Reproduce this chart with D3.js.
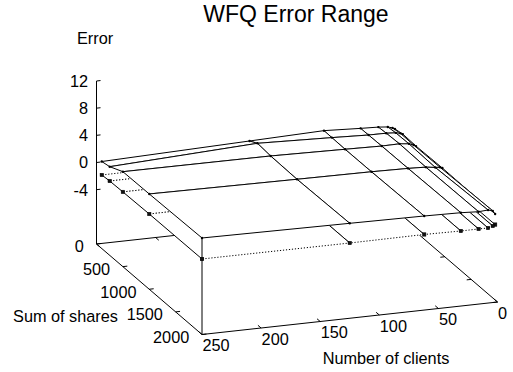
<!DOCTYPE html>
<html>
<head>
<meta charset="utf-8">
<script src="https://cdn.jsdelivr.net/npm/d3@7"></script>
<style>
  body { margin: 0; background: #fff; }
  text { font-family: "Liberation Sans", Arial, Helvetica, sans-serif; fill: #000; }
</style>
</head>
<body>
<svg id="chart" width="513" height="372"></svg>
<script>
// Grid of measurements: number of clients x sum of shares
const clients = [2, 4, 8, 16, 31, 62, 125, 250];
const shares = [100, 250, 500, 1000, 2000];

// Rows follow `shares`, columns follow `clients`
const maxError = [
  [0.86, 1.05, 1.27, 1.40, 1.50, 1.76, 1.44, 0.81],
  [1.10, 1.25, 1.40, 1.50, 1.52, 1.73, 2.10, 1.05],
  [1.00, 1.20, 1.45, 1.60, 1.56, 1.68, 1.90, 1.98],
  [1.10, 1.25, 1.30, 1.50, 1.60, 1.70, 1.80, 2.03],
  [1.00, 1.50, 1.70, 1.60, 1.74, 1.85, 1.98, 2.21]
];
const minError = [
  [-0.70, -0.80, -0.90, -1.00, -1.00, -1.05, -1.10, -1.17],
  [-0.70, -0.80, -0.90, -1.00, -1.00, -1.00, -1.05, -1.06],
  [-0.70, -0.80, -0.90, -0.95, -1.00, -1.00, -1.00, -1.00],
  [-0.60, -0.75, -0.92, -0.95, -0.95, -0.90, -0.92, -0.92],
  [-0.56, -0.73, -0.95, -0.94, -0.95, -0.87, -0.92, -0.88]
];

const zTicks = [-4, 0, 4, 8, 12];
const clientTicks = [0, 50, 100, 150, 200, 250];
const shareTicks = [0, 500, 1000, 1500, 2000];

const svg = d3.select("#chart");
const labelSize = 16.3;

// Oblique 3D projection: unit fractions along each axis mapped onto screen vectors
const cScale = d3.scaleLinear().domain([250, 0]).range([0, 1]);
const sScale = d3.scaleLinear().domain([0, 2000]).range([0, 1]);
const zScale = d3.scaleLinear().domain([-12, 12]).range([0, 163]);
const origin = [96.5, 244];
const cVec = [295.5, -32.5];
const sVec = [105.5, 90.5];
const zBase = -12;

function proj(c, s, z) {
  const u = cScale(c), v = sScale(s), h = zScale(z);
  return [origin[0] + u * cVec[0] + v * sVec[0],
          origin[1] + u * cVec[1] + v * sVec[1] - h];
}
// screen depth of a grid position (larger = nearer to the viewer)
function depth(c, s) {
  return cScale(c) * cVec[1] + sScale(s) * sVec[1];
}

function segs(g, data, cls, dash) {
  g.selectAll("line." + cls).data(data).join("line")
    .attr("class", cls)
    .attr("x1", d => d[0][0]).attr("y1", d => d[0][1])
    .attr("x2", d => d[1][0]).attr("y2", d => d[1][1])
    .attr("stroke", "#000").attr("stroke-width", 1)
    .attr("stroke-dasharray", dash || null)
    .attr("fill", "none");
}

// ---- base box and tics ----
const gBase = svg.append("g");
const baseEdges = [
  [proj(250, 0, zBase), proj(0, 0, zBase)],
  [proj(0, 0, zBase), proj(0, 2000, zBase)],
  [proj(250, 0, zBase), proj(250, 2000, zBase)],
  [proj(250, 2000, zBase), proj(0, 2000, zBase)]
];
segs(gBase, baseEdges, "edge");

const tickS = 60, tickC = 3.75;
const baseTicks = [];
clientTicks.forEach(c => {
  baseTicks.push([proj(c, 2000, zBase), proj(c, 2000 - tickS, zBase)]);
  baseTicks.push([proj(c, 0, zBase), proj(c, tickS, zBase)]);
});
shareTicks.forEach(s => {
  baseTicks.push([proj(250, s, zBase), proj(250 - tickC, s, zBase)]);
  baseTicks.push([proj(0, s, zBase), proj(tickC, s, zBase)]);
});
segs(gBase, baseTicks, "tick");

// z axis at the back-left corner
const gZ = svg.append("g");
segs(gZ, [[proj(250, 0, zBase), proj(250, 0, 12)]], "zaxis");
segs(gZ, zTicks.map(z => [proj(250, 0, z), proj(250 - 3.4, 0, z)]), "ztick");

// ---- surfaces with hidden-line removal (back-to-front, opaque white cells) ----
function surface(Z, clientsDash, markerType) {
  const g = svg.append("g");
  const cells = [];
  for (let i = 0; i < shares.length - 1; i++) {
    for (let j = 0; j < clients.length - 1; j++) {
      const cm = (clients[j] + clients[j + 1]) / 2;
      const sm = (shares[i] + shares[i + 1]) / 2;
      cells.push({ i, j, d: depth(cm, sm) });
    }
  }
  cells.sort((a, b) => a.d - b.d);
  const P = (i, j) => proj(clients[j], shares[i], Z[i][j]);
  cells.forEach(({ i, j }) => {
    const cg = g.append("g");
    const pts = [P(i, j), P(i, j + 1), P(i + 1, j + 1), P(i + 1, j)];
    cg.append("polygon")
      .attr("points", pts.map(p => p.join(",")).join(" "))
      .attr("fill", "#fff").attr("stroke", "#fff").attr("stroke-width", 0.6);
    segs(cg, [[P(i, j), P(i, j + 1)], [P(i + 1, j), P(i + 1, j + 1)]], "crow", clientsDash);
    segs(cg, [[P(i, j), P(i + 1, j)], [P(i, j + 1), P(i + 1, j + 1)]], "scol");
  });
  const nodes = [];
  shares.forEach((s, i) => clients.forEach((c, j) => nodes.push(P(i, j))));
  const gm = svg.append("g");
  if (markerType === "square") {
    gm.selectAll("rect").data(nodes).join("rect")
      .attr("x", d => d[0] - 1.7).attr("y", d => d[1] - 1.7)
      .attr("width", 3.4).attr("height", 3.4)
      .attr("fill", "#111").attr("stroke", "#000").attr("stroke-width", 0.5);
  } else {
    gm.selectAll("circle").data(nodes).join("circle")
      .attr("cx", d => d[0]).attr("cy", d => d[1]).attr("r", 1.2)
      .attr("fill", "#000");
  }
}

surface(minError, "1.2,1.8", "square");

// vertical line from the front base corner up to the surface corner
const iL = shares.length - 1, jL = clients.length - 1;
segs(svg.append("g"), [[proj(250, 2000, zBase), proj(250, 2000, maxError[iL][jL])]], "corner");
svg.append("rect")
  .attr("x", proj(250, 2000, minError[iL][jL])[0] - 1.7)
  .attr("y", proj(250, 2000, minError[iL][jL])[1] - 1.7)
  .attr("width", 3.4).attr("height", 3.4).attr("fill", "#111");

surface(maxError, null, "dot");

// ---- text ----
svg.append("text").attr("x", 296).attr("y", 22)
  .attr("text-anchor", "middle").attr("font-size", 23).text("WFQ Error Range");
svg.append("text").attr("x", 77).attr("y", 43.7)
  .attr("font-size", labelSize).text("Error");

svg.append("g").selectAll("text").data(zTicks).join("text")
  .attr("x", 88).attr("y", d => proj(250, 0, d)[1])
  .attr("dy", "0.36em").attr("text-anchor", "end").attr("font-size", labelSize)
  .text(d => d);

svg.append("g").selectAll("text").data(shareTicks).join("text")
  .attr("x", d => proj(250, d, zBase)[0] - 12.7)
  .attr("y", d => proj(250, d, zBase)[1] + 2.4)
  .attr("dy", "0.36em").attr("text-anchor", "end").attr("font-size", labelSize)
  .text(d => d);

svg.append("g").selectAll("text").data(clientTicks).join("text")
  .attr("x", d => proj(d, 2000, zBase)[0] + 0.5)
  .attr("y", d => proj(d, 2000, zBase)[1] + 11)
  .attr("dy", "0.36em").attr("text-anchor", "start").attr("font-size", labelSize)
  .text(d => d);

svg.append("text").attr("x", 118).attr("y", 316).attr("dy", "0.36em")
  .attr("text-anchor", "end").attr("font-size", labelSize).text("Sum of shares");
svg.append("text").attr("x", 386).attr("y", 358).attr("dy", "0.36em")
  .attr("text-anchor", "middle").attr("font-size", labelSize).text("Number of clients");
</script>
</body>
</html>
